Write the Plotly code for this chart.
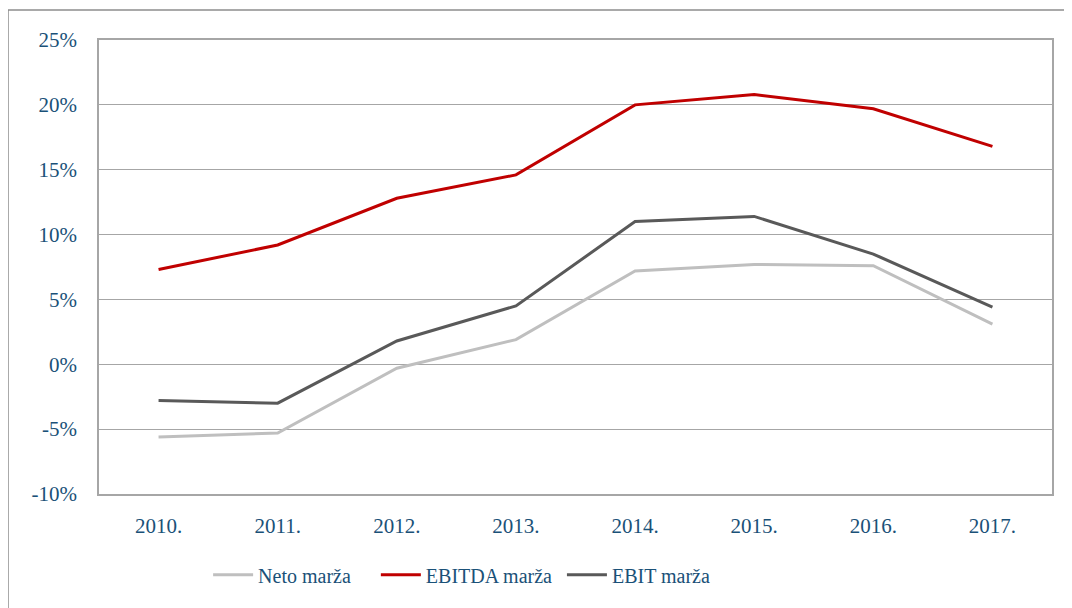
import plotly.graph_objects as go

years = ["2010.", "2011.", "2012.", "2013.", "2014.", "2015.", "2016.", "2017."]
neto = [-5.6, -5.3, -0.3, 1.9, 7.2, 7.7, 7.6, 3.1]
ebitda = [7.3, 9.2, 12.8, 14.6, 20.0, 20.8, 19.7, 16.8]
ebit = [-2.8, -3.0, 1.8, 4.5, 11.0, 11.4, 8.5, 4.4]
y_ticks = [-10, -5, 0, 5, 10, 15, 20, 25]
y_labels = ["-10%", "-5%", "0%", "5%", "10%", "15%", "20%", "25%"]

txt = "#1A5178"
font = "Liberation Serif"
nb = "\u00a0"

fig = go.Figure()
fig.add_trace(go.Scatter(x=years, y=neto, mode="lines", name="Neto marža" + nb * 4,
                         line=dict(color="#BFBFBF", width=3)))
fig.add_trace(go.Scatter(x=years, y=ebitda, mode="lines", name="EBITDA marža" + nb,
                         line=dict(color="#C00000", width=3)))
fig.add_trace(go.Scatter(x=years, y=ebit, mode="lines", name="EBIT marža",
                         line=dict(color="#595959", width=3)))

fig.update_layout(
    width=1064, height=600,
    margin=dict(l=91, r=20, t=32, b=114),
    paper_bgcolor="white", plot_bgcolor="white",
    font=dict(family=font, color=txt, size=20),
    showlegend=True,
    legend=dict(orientation="h", x=0.1145, xanchor="left", y=-0.178, yanchor="middle",
                font=dict(size=20, color=txt), itemwidth=40, tracegroupgap=0),
    xaxis=dict(type="category", range=[-0.5, 7.5], showgrid=False,
               showline=True, mirror=True, linecolor="#A6A6A6", linewidth=1.5,
               ticks="", tickfont=dict(size=21, color=txt), ticklabelstandoff=12),
    yaxis=dict(range=[-10, 25], tickvals=y_ticks, ticktext=y_labels,
               showgrid=True, gridcolor="#A6A6A6", gridwidth=1,
               showline=True, mirror=True, linecolor="#A6A6A6", linewidth=1.5,
               zeroline=False, ticks="", tickfont=dict(size=21, color=txt),
               ticklabelstandoff=16),
    shapes=[
        dict(type="line", xref="paper", yref="paper", x0=-0.0955, x1=1.03,
             y0=1.066, y1=1.066, line=dict(color="#8C8C8C", width=1.5)),
        dict(type="line", xref="paper", yref="paper", x0=-0.0955, x1=-0.0955,
             y0=1.066, y1=-0.26, line=dict(color="#8C8C8C", width=1.5)),
    ],
)

fig.write_html("out.html")
